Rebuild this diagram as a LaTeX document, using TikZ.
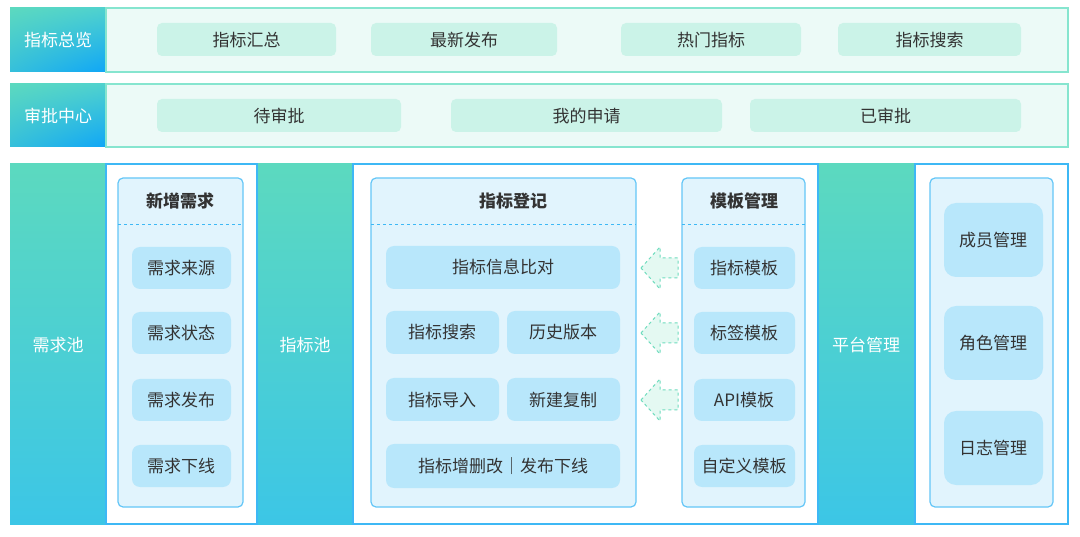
\documentclass[tikz,border=0pt]{standalone}
\usepackage{fontspec}
\usetikzlibrary{shadings}
\newfontfamily\cjk{Noto Sans CJK SC}
\definecolor{tealA}{HTML}{5CD9BF}
\definecolor{blueA}{HTML}{0FA6F7}
\definecolor{cyanB}{HTML}{3CC6E6}
\definecolor{mintBg}{HTML}{ECFAF7}
\definecolor{mintBd}{HTML}{86E5CF}
\definecolor{mintItem}{HTML}{CBF3E8}
\definecolor{panelBd}{HTML}{3DB8F5}
\definecolor{innerBg}{HTML}{E1F4FD}
\definecolor{itemBg}{HTML}{B8E7FB}
\definecolor{txt}{HTML}{333333}
\definecolor{arrG}{HTML}{6FDCBE}
\definecolor{arrF}{HTML}{E4F9F2}
\tikzset{
 lbl/.style={shade,upper left=tealA,upper right=tealA!60!cyanB,lower left=tealA!50!blueA,lower right=blueA,draw=none},
 lblt/.style={shade,top color=tealA,bottom color=cyanB,draw=none},
 ltext/.style={text=white,font=\cjk\fontsize{17}{17}\selectfont},
 mintbox/.style={fill=mintBg,draw=mintBd,line width=1.2},
 mitem/.style={fill=mintItem,rounded corners=5,draw=none},
 itxt/.style={text=txt,font=\cjk\fontsize{17}{17}\selectfont},
 ttxt/.style={text=txt,font=\cjk\bfseries\fontsize{17}{17}\selectfont},
 panel/.style={fill=white,draw=panelBd,line width=1.2},
 inner/.style={fill=innerBg,draw=panelBd!80,line width=1.2,rounded corners=5},
 bitem/.style={fill=itemBg,rounded corners=8,draw=none},
 garrow/.style={draw=arrG,fill=arrF,dashed,line width=1},
}
\begin{document}
\begin{tikzpicture}[x=1pt,y=-1pt]
\useasboundingbox (0,0) rectangle (1080,537);
\fill[white] (0,0) rectangle (1080,537);
% row 1
\path[lbl] (10,8) rectangle (106,72);
\node[ltext] (r1) at (58,40) {指标总览};
\draw[mintbox] (106,8) rectangle (1068,72);
\foreach \a/\b/\t/\n in {157/336/指标汇总/a1,371/557/最新发布/a2,621/801/热门指标/a3,838/1021/指标搜索/a4}{
 \fill[mitem] (\a,23) rectangle (\b,56);
 \node[itxt] (\n) at ({(\a+\b)/2},40) {\t};}
% row 2
\path[lbl] (10,84) rectangle (106,147);
\node[ltext] (r2) at (58,116) {审批中心};
\draw[mintbox] (106,84) rectangle (1068,147);
\foreach \a/\b/\t/\n in {157/401/待审批/b1,451/722/我的申请/b2,750/1021/已审批/b3}{
 \fill[mitem] (\a,99) rectangle (\b,132);
 \node[itxt] (\n) at ({(\a+\b)/2},116) {\t};}
% row 3 labels
\path[lblt] (10,164) rectangle (106,524);
\node[ltext] (c1) at (58,345) {需求池};
\path[lblt] (257,164) rectangle (353,524);
\node[ltext] (c2) at (305,345) {指标池};
\path[lblt] (818,164) rectangle (915,524);
\node[ltext] (c3) at (866,345) {平台管理};
% panel 1
\draw[panel] (106,164) rectangle (257,524);
\draw[inner] (118,178) rectangle (243,507);
\node[ttxt] (t1) at (180,201) {新增需求};
\draw[panelBd,dashed,line width=1] (118,225) -- (243,225);
\foreach \y/\t/\n in {268/需求来源/d1,333/需求状态/d2,400/需求发布/d3,466/需求下线/d4}{
 \fill[bitem] (132,\y-21) rectangle (231,\y+21);
 \node[itxt] (\n) at (181,\y) {\t};}
% panel 2
\draw[panel] (353,164) rectangle (818,524);
\draw[inner] (371,178) rectangle (636,507);
\node[ttxt] (t2) at (513,201) {指标登记};
\draw[panelBd,dashed,line width=1] (371,225) -- (636,225);
\fill[bitem] (386,246) rectangle (620,289); \node[itxt] (e1) at (503,267) {指标信息比对};
\fill[bitem] (386,311) rectangle (499,354); \node[itxt] (e2) at (442,332) {指标搜索};
\fill[bitem] (507,311) rectangle (620,354); \node[itxt] (e3) at (563,332) {历史版本};
\fill[bitem] (386,378) rectangle (499,421); \node[itxt] (e4) at (442,400) {指标导入};
\fill[bitem] (507,378) rectangle (620,421); \node[itxt] (e5) at (563,400) {新建复制};
\fill[bitem] (386,444) rectangle (620,488); \node[itxt] (e6) at (503,466) {指标增删改｜发布下线};
\draw[inner] (682,178) rectangle (805,507);
\node[ttxt] (t3) at (744,201) {模板管理};
\draw[panelBd,dashed,line width=1] (682,225) -- (805,225);
\foreach \y/\t/\n in {268/指标模板/f1,333/标签模板/f2,400/API模板/f3,466/自定义模板/f4}{
 \fill[bitem] (694,\y-21) rectangle (795,\y+21);
 \node[itxt] (\n) at (744,\y) {\t};}
\foreach \y in {268,333,400}{
 \draw[garrow] (641,\y) -- (660,\y-21) -- (660,\y-10) -- (678,\y-10) -- (678,\y+10) -- (660,\y+10) -- (660,\y+21) -- cycle;}
% panel 3
\draw[panel] (915,164) rectangle (1068,524);
\draw[inner] (930,178) rectangle (1053,507);
\foreach \y/\t/\n in {240/成员管理/g1,343/角色管理/g2,448/日志管理/g3}{
 \fill[bitem,rounded corners=12] (944,\y-37) rectangle (1043,\y+37);
 \node[itxt] (\n) at (993,\y) {\t};}
\end{tikzpicture}
\end{document}
